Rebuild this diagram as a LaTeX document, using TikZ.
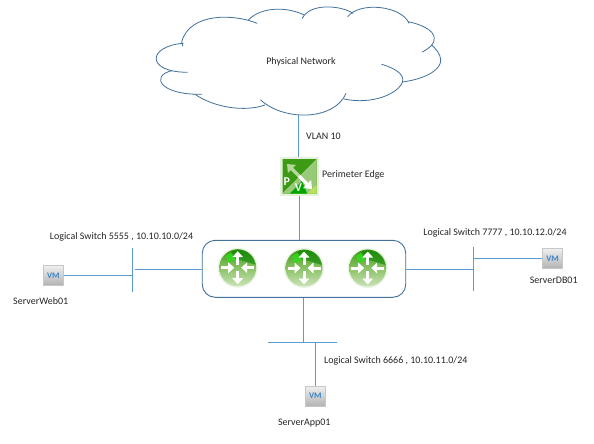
\documentclass[tikz,border=0pt]{standalone}
\usepackage{fontspec}
\setmainfont{Carlito}
\usetikzlibrary{arrows.meta,calc}
\definecolor{wire}{HTML}{5B9BD5}
\definecolor{cloudline}{HTML}{41719C}
\definecolor{gdark}{HTML}{3C9A14}
\definecolor{gmid}{HTML}{6DB33F}
\definecolor{glight}{HTML}{B5D79A}
\definecolor{vmblue}{HTML}{3C85C6}
\tikzset{
  x=1pt,y=-1pt,
  wirelink/.style={draw=wire,line width=0.9pt},
  cloudarc/.style={draw=cloudline,line width=0.8pt,line cap=round},
  lbl/.style={inner sep=0pt,yshift=-0.8pt,text=black!85,font=\fontsize{10}{12}\selectfont},
  boxrouter/.style={draw=cloudline,line width=0.9pt,rounded corners=13pt,fill=white},
  vmicon/.style={minimum size=20pt,inner sep=0pt,draw=black!22,line width=0.8pt,top color=black!6,bottom color=black!30,
    text=vmblue,font=\fontsize{8.5}{8.5}\selectfont\bfseries},
  halo/.style={circle,minimum size=40pt,inner sep=0pt,fill=gmid!14!white},
  rbody/.style={circle,minimum size=37pt,inner sep=0pt,top color=gdark,bottom color=glight!70!white,middle color=gmid!80!white},
  wharrow/.style={draw=white,line width=3pt,-{Triangle[length=6pt,width=10.5pt]}},
  edgeicon/.style={minimum size=39pt,inner sep=0pt,fill=gmid!18!white},
}
\newcommand{\routerpic}[2]{%
  \node[halo] (#1) at (#2) {};
  \node[rbody] (#1b) at (#2) {};
  \begin{scope}[shift={(#2)}]
    \fill[green!50!black,opacity=.55] (-7,-16) -- (0,-18.3) -- (9,-16) -- (15,-10) -- (18,-3) -- (8,-6) -- (-4,-10) -- cycle;
    \fill[green!65!gmid,opacity=.7] (-12,-12) -- (-6,-15) -- (-2,-8) -- (-9,-5) -- cycle;
    \draw[wharrow] (0,-3) -- (0,-16.5);
    \draw[wharrow] (0,3) -- (0,16.5);
    \draw[wharrow] (-16.5,0) -- (-3.5,0);
    \draw[wharrow] (16.5,0) -- (3.5,0);
  \end{scope}}
\begin{document}
\begin{tikzpicture}
\useasboundingbox[fill=white] (0,0) rectangle (594,444);
% cloud
\draw[cloudarc] (257,23.3) .. controls (235,14) and (190,12) .. (181.7,41.7) -- (182.7,46);
\draw[cloudarc] (183.3,43.3) .. controls (148,46) and (145,72) .. (187.3,72.3);
\draw[cloudarc] (171.7,70.7) .. controls (150,76) and (160,95) .. (201.7,94.3);
\draw[cloudarc] (195,94.3) .. controls (215,108) and (245,112) .. (265,105);
\draw[cloudarc] (260.7,100) .. controls (285,122) and (335,120) .. (346,93.3);
\draw[cloudarc] (344,99) .. controls (372,105) and (398,94) .. (402.5,82) .. controls (405,74) and (394,68) .. (381.7,64.3);
\draw[cloudarc] (402.7,82) .. controls (430,78) and (441,68) .. (440.7,60) .. controls (440.5,54) and (436,49) .. (431.7,45);
\draw[cloudarc] (422.3,52) .. controls (430,48) and (434.5,44) .. (434.3,38) .. controls (434,30) and (420,24) .. (408.3,21.7);
\draw[cloudarc] (409,23.3) .. controls (402,6) and (360,1) .. (347.7,16.7);
\draw[cloudarc] (353,13.3) .. controls (340,5) and (310,3) .. (302.3,18.3);
\draw[cloudarc] (304.3,15) .. controls (288,7) and (262,6) .. (248.3,20);
\coordinate (cloudbottom) at (298,115);
\node[lbl] (phys) at (301,61) {Physical Network};
% edge
\node[edgeicon] (edge) at (299.5,176.5) {};
\fill[gmid] (282.5,159) rectangle (316.5,193.5);
\fill[gdark] (282.5,159) -- (316.5,159) -- (282.5,193.5) -- cycle;
\fill[gmid!70!white] (316.5,159) -- (316.5,193.5) -- (282.5,193.5) -- cycle;
\fill[green!65!black] (290,193.5) -- (302,181) -- (307,193.5) -- cycle;
\fill[yellow!60!green!70!white] (307,193.5) -- (316.5,185) -- (316.5,193.5) -- cycle;
\draw[draw=glight,line width=3.2pt,-{Triangle[length=7pt,width=11pt]}] (299,176) -- (287,164);
\draw[draw=white,line width=3.2pt,-{Triangle[length=7pt,width=11pt]}] (299,176) -- (312,189);
\node[inner sep=0pt,text=white,font=\fontsize{12}{12}\selectfont\bfseries] (pl) at (286.7,182) {P};
\node[inner sep=0pt,text=white,font=\fontsize{12}{12}\selectfont\bfseries] (vl) at (298.5,188) {V};
\draw[wirelink] (cloudbottom) -- (edge.north -| cloudbottom);
\node[lbl,anchor=west] (vlan) at (306,135) {VLAN 10};
\node[lbl,anchor=west] (peri) at (322,174) {Perimeter Edge};
% router box
\node[boxrouter,minimum width=203.5pt,minimum height=57pt,inner sep=0pt] (box) at (304,268.8) {};
\coordinate (boxtop) at (299.5,240.3);
\draw[wirelink] (edge.south) -- (boxtop);
\routerpic{r1}{237.7,267.7}
\routerpic{r2}{304,268}
\routerpic{r3}{367.7,268}
% left switch
\coordinate (lsa) at (132.5,248.3);
\coordinate (lsb) at (132.5,291.7);
\coordinate (lsc) at (134.5,269);
\draw[wirelink] (lsa) -- (lsb);
\draw[wirelink] (lsc) -- (lsc -| box.west);
\node[vmicon] (vmw) at (53.3,275.3) {VM};
\draw[wirelink] (vmw.east) -- (vmw.east -| lsa);
\node[lbl] (lw) at (121.5,236) {Logical Switch 5555 , 10.10.10.0/24};
\node[lbl] (nw) at (40.7,300) {ServerWeb01};
% right switch
\coordinate (rsa) at (473.3,247.3);
\coordinate (rsb) at (473.3,290.7);
\draw[wirelink] (rsa) -- (rsb);
\draw[wirelink] (box.east |- 0,269.3) -- (473.3,269.3);
\node[vmicon] (vmd) at (552.5,258.3) {VM};
\draw[wirelink] (vmd.west) -- (vmd.west -| rsa);
\node[lbl] (ld) at (495,232) {Logical Switch 7777 , 10.10.12.0/24};
\node[lbl] (nd) at (553.7,279) {ServerDB01};
% bottom switch
\coordinate (bsa) at (268.3,342.3);
\coordinate (bsb) at (336.7,342.3);
\draw[wirelink] (bsa) -- (bsb);
\coordinate (bstop) at (303.3,342.3);
\draw[wirelink] (bstop |- box.south) -- (bstop);
\node[vmicon] (vma) at (315.3,396) {VM};
\draw[wirelink] (vma.north) -- (vma.north |- bsa);
\node[lbl,anchor=west] (la) at (324,360) {Logical Switch 6666 , 10.10.11.0/24};
\node[lbl] (na) at (304.3,422.3) {ServerApp01};
\end{tikzpicture}
\end{document}
